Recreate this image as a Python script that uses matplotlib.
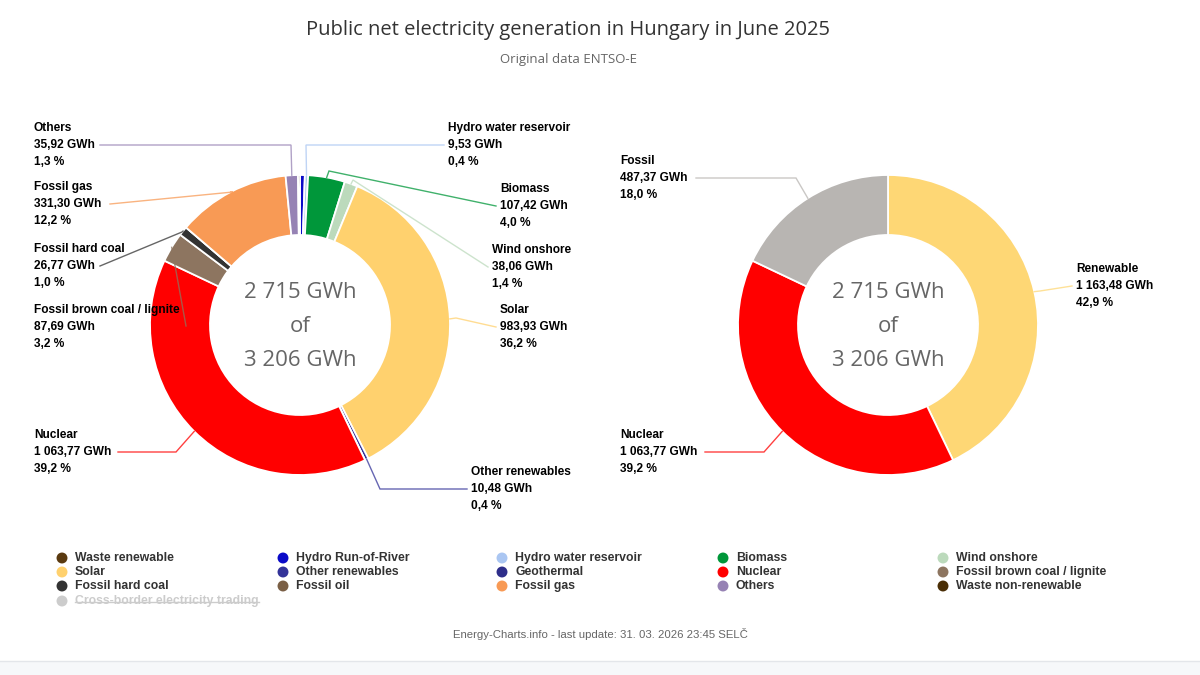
import matplotlib
matplotlib.use("Agg")
import matplotlib.pyplot as plt
from matplotlib import font_manager
import numpy as np

# ---------------- data ----------------
title = "Public net electricity generation in Hungary in June 2025"
subtitle = "Original data ENTSO-E"
footer = "Energy-Charts.info - last update: 31. 03. 2026 23:45 SELČ"

sources = ["Waste renewable", "Hydro Run-of-River", "Hydro water reservoir", "Biomass",
           "Wind onshore", "Solar", "Other renewables", "Geothermal", "Nuclear",
           "Fossil brown coal / lignite", "Fossil hard coal", "Fossil oil", "Fossil gas",
           "Others", "Waste non-renewable"]
source_gwh = [0.0, 14.06, 9.53, 107.42, 38.06, 983.93, 10.48, 0.0, 1063.77,
              87.69, 26.77, 0.0, 331.30, 35.92, 5.69]
source_colors = ["#5a3a10", "#0a0ac8", "#aac6f2", "#00973a", "#bcdabc", "#ffd16e",
                 "#333399", "#2e2e8a", "#ff0000", "#8d7560", "#333333", "#7a5f45",
                 "#f89a55", "#9682b4", "#4a2e06"]

groups = ["Renewable", "Nuclear", "Fossil"]
group_gwh = [1163.48, 1063.77, 487.37]
group_colors = ["#fed775", "#ff0000", "#b8b5b2"]

center_lines = ["2 715 GWh", "of", "3 206 GWh"]

legend_items = ["Waste renewable", "Hydro Run-of-River", "Hydro water reservoir", "Biomass",
                "Wind onshore", "Solar", "Other renewables", "Geothermal", "Nuclear",
                "Fossil brown coal / lignite", "Fossil hard coal", "Fossil oil", "Fossil gas",
                "Others", "Waste non-renewable", "Cross-border electricity trading"]
legend_colors = ["#5a3a10", "#0a0ac8", "#aac6f2", "#00973a", "#bcdabc",
                 "#ffd16e", "#333399", "#2e2e8a", "#ff0000", "#8d7560",
                 "#333333", "#7a5f45", "#f89a55", "#9682b4", "#4a2e06",
                 "#cccccc"]

# ---------------- fonts ----------------
avail = {f.name for f in font_manager.fontManager.ttflist}
def pick(*names):
    for n in names:
        if n in avail:
            return n
    return "DejaVu Sans"
F_TITLE = pick("Open Sans", "Noto Sans", "DejaVu Sans")
F_LAB = pick("Liberation Sans Narrow", "Liberation Sans", "DejaVu Sans")
F_LEG = pick("Liberation Sans Narrow", "Liberation Sans", "DejaVu Sans")


def fmt_num(v):
    s = f"{v:,.2f}"
    whole, dec = s.split(".")
    return whole.replace(",", " ") + "," + dec


def fmt_pct(v):
    return f"{v:.1f}".replace(".", ",") + " %"

# ---------------- figure ----------------
W, H = 1200, 675
fig = plt.figure(figsize=(W / 100, H / 100), dpi=100)
fig.patch.set_facecolor("white")

R = 150


def donut_axes(cx, cy):
    return fig.add_axes([(cx - R) / W, 1 - (cy + R) / H, 2 * R / W, 2 * R / H])


def draw_donut(ax, values, colors):
    wedges, _ = ax.pie(values, colors=colors, startangle=90, counterclock=False,
                       radius=1.0,
                       wedgeprops=dict(width=0.4, edgecolor="white", linewidth=1.3))
    ax.set_xlim(-1, 1)
    ax.set_ylim(-1, 1)
    ax.set_aspect("auto")
    ax.axis("off")
    return wedges


LX, LY = 300, 325
RX, RY = 888, 325
axL = donut_axes(LX, LY)
axR = donut_axes(RX, RY)
wL = draw_donut(axL, source_gwh, source_colors)
wR = draw_donut(axR, group_gwh, group_colors)

ov = fig.add_axes([0, 0, 1, 1], zorder=5)
ov.set_xlim(0, W)
ov.set_ylim(H, 0)
ov.axis("off")
ov.patch.set_alpha(0)


def anchor(w, cx, cy):
    ang = np.deg2rad((w.theta1 + w.theta2) / 2)
    return cx + R * np.cos(ang), cy - R * np.sin(ang)

# title
ov.text(568, 30, title, ha="center", va="center", fontsize=14.5, color="#333333",
        family=F_TITLE)
ov.text(568, 59, subtitle, ha="center", va="center", fontsize=9.5, color="#666666",
        family=F_TITLE)

# center text
for cx, cy in [(LX, LY), (RX, RY)]:
    for i, t in enumerate(center_lines):
        ov.text(cx, cy - 33 + i * 34.5, t, ha="center", va="center", fontsize=16,
                color="#666666", family=F_TITLE)

tot_L = sum(source_gwh)
tot_R = sum(group_gwh)
left_labels = [
    (13, 34, 145, (100, 145), (291, 145)),
    (12, 34, 204, (110, 204), (233, 192)),
    (10, 34, 266, (100, 266), (182, 232)),
    (9, 34, 327, (186, 326), (172, 249)),
    (8, 34, 452, (118, 452), (176, 452)),
    (2, 448, 145, (444, 145), (306, 145)),
    (3, 500, 206, (496, 206), (329, 171)),
    (4, 492, 267, (488, 267), (353, 180)),
    (5, 500, 327, (496, 327), (456, 318)),
    (6, 471, 489, (467, 489), (380, 489)),
]
right_labels = [
    (2, 620, 178, (696, 178), (796, 178)),
    (0, 1076, 286, (1072, 286), (1040, 291)),
    (1, 620, 452, (705, 452), (764, 452)),
]


def draw_labels(labels, names, vals, tot, wedges, cx, cy):
    for idx, tx, my, st, el in labels:
        v = vals[idx]
        lines = [names[idx], fmt_num(v) + " GWh", fmt_pct(v / tot * 100)]
        for k, t in enumerate(lines):
            ov.text(tx, my + (k - 1) * 17, t, ha="left", va="center", fontsize=8.6,
                    fontweight="bold", color="#000000", family=F_LAB, zorder=6)
        ax_, ay_ = anchor(wedges[idx], cx, cy)
        col = wedges[idx].get_facecolor()
        ov.plot([st[0], el[0], ax_], [st[1], el[1], ay_], color=col, lw=1.0,
                alpha=0.75, solid_joinstyle="miter", zorder=4)


draw_labels(left_labels, sources, source_gwh, tot_L, wL, LX, LY)
draw_labels(right_labels, groups, group_gwh, tot_R, wR, RX, RY)

# legend
col_x = [62, 283, 502, 723, 943]
row_y = [558, 572, 586, 601]
renderer = fig.canvas.get_renderer()
for i, (name, c) in enumerate(zip(legend_items, legend_colors)):
    r, k = divmod(i, 5)
    x, y = col_x[k], row_y[r]
    ov.scatter([x], [y], s=62, color=c, edgecolors="none", zorder=6)
    struck = name.startswith("Cross-border")
    t = ov.text(x + 13, y, name, ha="left", va="center", fontsize=8.8,
                fontweight="bold", color="#cccccc" if struck else "#333333",
                family=F_LEG, zorder=6)
    if struck:
        bb = t.get_window_extent(renderer=renderer)
        inv = ov.transData.inverted()
        (x0, _), (x1, _) = inv.transform([[bb.x0, bb.y0], [bb.x1, bb.y1]])
        ov.plot([x0, x1], [y + 0.5, y + 0.5], color="#cccccc", lw=1.0, zorder=7)

ov.text(W / 2, 634, footer, ha="center", va="center", fontsize=8.2, color="#666666",
        family=F_LEG)

# bottom strip
ov.add_patch(plt.Rectangle((0, 661), W, 14, facecolor="#f6f8fa", edgecolor="none", zorder=1))
ov.plot([0, W], [661, 661], color="#e3e6ea", lw=1.0, zorder=2)

fig.savefig("out.png", dpi=100, facecolor="white")
